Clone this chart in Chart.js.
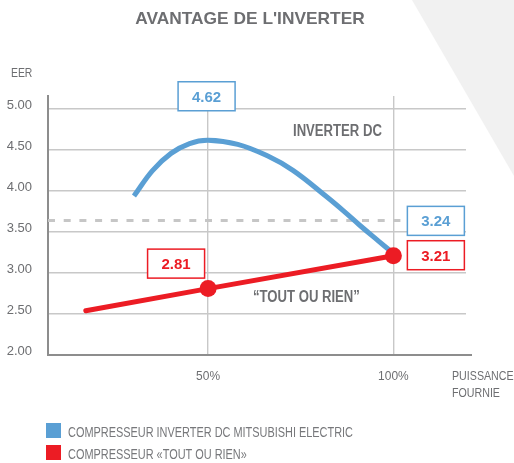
<!DOCTYPE html>
<html>
<head>
<meta charset="utf-8">
<script src="https://cdn.jsdelivr.net/npm/chart.js@4.4.1/dist/chart.umd.min.js"></script>
<style>
  html, body { margin: 0; padding: 0; background: #fff; }
  canvas { display: block; }
</style>
</head>
<body>
<canvas id="eer" width="514" height="463"></canvas>
<script>
//////////////////////////////// data ////////////////////////////////
const X_TICKS = [50, 100];
const X_TICK_LABELS = ['50%', '100%'];
const Y_TICKS = [2, 2.5, 3, 3.5, 4, 4.5, 5];

// inverter compressor curve (load % -> EER)
const INVERTER_X = [30, 35, 40, 45, 50, 58, 66, 73, 82, 87, 91, 96, 100];
const INVERTER_Y = [3.94, 4.25, 4.46, 4.58, 4.62, 4.57, 4.43, 4.25, 3.93, 3.74, 3.58, 3.39, 3.24];

// on/off compressor
const ONOFF_X = [17, 50, 100];
const ONOFF_Y = [2.54, 2.81, 3.21];

const REFERENCE_EER = 3.64;

const BLUE = '#5a9fd4';
const RED = '#ec1c24';
const GREY = '#6d6e71';
const FONT = '"Liberation Sans", Arial, sans-serif';

// which points get a value box, and where the box sits relative to the point
const VALUE_BOXES = [
  { set: 0, at: 50, dx: -1.5, dy: -44 },
  { set: 0, at: 100, dx: 42.5, dy: -32.5 },
  { set: 1, at: 50, dx: -32, dy: -25 },
  { set: 1, at: 100, dx: 42.5, dy: -0.6 }
];

function toPoints(xs, ys) {
  return xs.map((x, i) => ({ x: x, y: ys[i] }));
}

// text drawn squeezed horizontally, to get a condensed face
function text(ctx, s, x, y, font, color, align, sx) {
  ctx.save();
  ctx.font = font;
  ctx.fillStyle = color;
  ctx.textAlign = align || 'left';
  ctx.textBaseline = 'alphabetic';
  ctx.translate(x, y);
  ctx.scale(sx || 1, 1);
  ctx.fillText(s, 0, 0);
  ctx.restore();
}

//////////////////////////////// decorations ////////////////////////////////
const decor = {
  id: 'decor',
  beforeDraw(chart) {
    const ctx = chart.ctx;
    ctx.save();
    ctx.fillStyle = '#fff';
    ctx.fillRect(0, 0, chart.width, chart.height);
    // pale corner shape
    ctx.fillStyle = '#f1f1f1';
    ctx.beginPath();
    ctx.moveTo(412, 0);
    ctx.lineTo(chart.width, 0);
    ctx.lineTo(chart.width, 176);
    ctx.closePath();
    ctx.fill();
    ctx.restore();
  },
  beforeDatasetsDraw(chart) {
    const ctx = chart.ctx;
    const area = chart.chartArea;
    const y = chart.scales.y.getPixelForValue(REFERENCE_EER);
    ctx.save();
    ctx.strokeStyle = '#c6c6c6';
    ctx.lineWidth = 3;
    ctx.setLineDash([7, 8.7]);
    ctx.beginPath();
    ctx.moveTo(area.left, y);
    ctx.lineTo(area.right, y);
    ctx.stroke();
    ctx.restore();
  },
  afterDatasetsDraw(chart) {
    const ctx = chart.ctx;
    const xs = chart.scales.x;
    const ys = chart.scales.y;
    const area = chart.chartArea;

    // x axis runs a little past the grid
    ctx.save();
    ctx.strokeStyle = '#8d8d8d';
    ctx.lineWidth = 2;
    ctx.beginPath();
    ctx.moveTo(area.right - 1, area.bottom);
    ctx.lineTo(area.right + 6, area.bottom);
    ctx.stroke();
    ctx.restore();

    // value boxes
    VALUE_BOXES.forEach(b => {
      const ds = chart.data.datasets[b.set];
      const p = ds.data.find(d => d.x === b.at);
      const cx = xs.getPixelForValue(p.x) + b.dx;
      const cy = ys.getPixelForValue(p.y) + b.dy;
      const w = 57, h = 29;
      ctx.save();
      ctx.fillStyle = '#fff';
      ctx.fillRect(cx - w / 2, cy - h / 2, w, h);
      ctx.strokeStyle = ds.borderColor;
      ctx.lineWidth = 1.5;
      ctx.strokeRect(cx - w / 2, cy - h / 2, w, h);
      ctx.restore();
      text(ctx, p.y.toFixed(2), cx, cy + 5.5, 'bold 15px ' + FONT, ds.borderColor, 'center', 1);
    });
  },
  afterDraw(chart) {
    const ctx = chart.ctx;
    const xs = chart.scales.x;
    const ys = chart.scales.y;

    text(ctx, "AVANTAGE DE L'INVERTER", 250, 24, 'bold 17px ' + FONT, GREY, 'center', 1.02);
    text(ctx, 'EER', 11, 77, '13px ' + FONT, GREY, 'left', 0.8);

    Y_TICKS.forEach(v => {
      text(ctx, v.toFixed(2), 32, ys.getPixelForValue(v), '13px ' + FONT, GREY, 'right', 1);
    });
    X_TICKS.forEach((v, i) => {
      text(ctx, X_TICK_LABELS[i], xs.getPixelForValue(v), 380, '13px ' + FONT, GREY, 'center', 0.92);
    });
    text(ctx, 'PUISSANCE', 452, 380, '13px ' + FONT, GREY, 'left', 0.82);
    text(ctx, 'FOURNIE', 452, 397, '13px ' + FONT, GREY, 'left', 0.82);

    // series captions inside the plot
    text(ctx, 'INVERTER DC', 293, 136, 'bold 16px ' + FONT, GREY, 'left', 0.82);
    text(ctx, '\u201CTOUT OU RIEN\u201D', 253, 302, 'bold 16px ' + FONT, GREY, 'left', 0.82);

    // legend
    chart.data.datasets.forEach((ds, i) => {
      const top = 423 + i * 22;
      ctx.save();
      ctx.fillStyle = ds.borderColor;
      ctx.fillRect(46, top, 15, 15);
      ctx.restore();
      text(ctx, ds.label, 68, top + 14, '14px ' + FONT, '#77787b', 'left', 0.78);
    });
  }
};

//////////////////////////////// chart ////////////////////////////////
const ctx = document.getElementById('eer').getContext('2d');

const chart = new Chart(ctx, {
  type: 'line',
  data: {
    datasets: [
      {
        label: 'COMPRESSEUR INVERTER DC MITSUBISHI ELECTRIC',
        data: toPoints(INVERTER_X, INVERTER_Y),
        borderColor: BLUE,
        borderWidth: 5,
        borderCapStyle: 'butt',
        pointRadius: 0,
        tension: 0.4,
        fill: false,
        order: 1
      },
      {
        label: 'COMPRESSEUR \u00ABTOUT OU RIEN\u00BB',
        data: toPoints(ONOFF_X, ONOFF_Y),
        borderColor: RED,
        backgroundColor: RED,
        borderWidth: 5,
        borderCapStyle: 'round',
        pointRadius: ONOFF_X.map((x, i) => i === 0 ? 0 : 8.5),
        pointBorderWidth: 0,
        tension: 0,
        fill: false,
        order: 0
      }
    ]
  },
  options: {
    responsive: false,
    animation: false,
    devicePixelRatio: 1,
    layout: { padding: { top: 96, right: 48, left: 0, bottom: 0 } },
    plugins: {
      legend: { display: false },
      tooltip: { enabled: false }
    },
    scales: {
      x: {
        type: 'linear',
        min: 6.8,
        max: 119.6,
        afterBuildTicks: s => { s.ticks = X_TICKS.map(v => ({ value: v })); },
        afterFit: s => { s.height = 108; },
        grid: { color: '#c8c8c8', lineWidth: 1.4, drawTicks: false },
        border: { color: '#8d8d8d', width: 2 },
        ticks: { display: false }
      },
      y: {
        min: 2,
        max: 5.16,
        afterBuildTicks: s => { s.ticks = Y_TICKS.map(v => ({ value: v })); },
        afterFit: s => { s.width = 48; },
        grid: { color: '#c8c8c8', lineWidth: 1.4, drawTicks: false },
        border: { color: '#8d8d8d', width: 2 },
        ticks: { display: false }
      }
    }
  },
  plugins: [decor]
});
</script>
</body>
</html>
